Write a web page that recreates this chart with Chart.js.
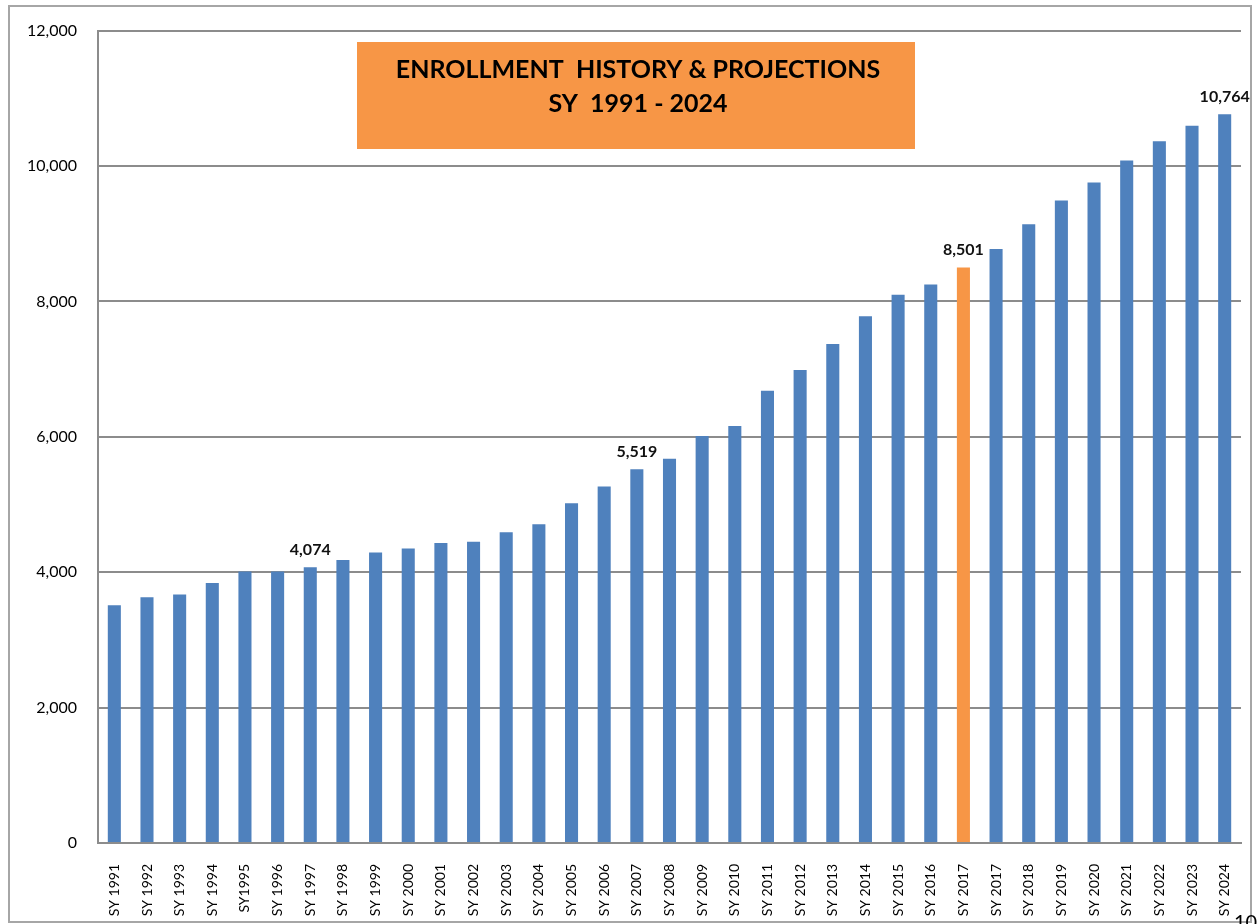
<!DOCTYPE html>
<html>
<head>
<meta charset="utf-8">
<title>Enrollment History & Projections</title>
<script src="https://cdn.jsdelivr.net/npm/chart.js@4.4.1/dist/chart.umd.min.js"></script>
<style>
    html, body { margin: 0; padding: 0; width: 1260px; height: 924px; overflow: hidden; background: #fff; }
    #wrap { position: absolute; left: 0; top: 0; width: 1260px; height: 924px; }
    #frame { position: absolute; left: 8px; top: 5px; width: 1240px; height: 914px; border: 2px solid #a6a6a6; pointer-events: none; }
    #pageNo { position: absolute; left: 1234px; top: 909px; font: 20px Lato, sans-serif; color: #000; }
</style>
</head>
<body>
<div id="wrap"><canvas id="enrollmentChart" width="1260" height="924"></canvas></div>
<div id="frame"></div>
<div id="pageNo">10</div>
<script>
// Chart data
const categories = [
    'SY 1991', 'SY 1992', 'SY 1993', 'SY 1994', 'SY1995', 'SY 1996', 'SY 1997', 'SY 1998',
    'SY 1999', 'SY 2000', 'SY 2001', 'SY 2002', 'SY 2003', 'SY 2004', 'SY 2005', 'SY 2006',
    'SY 2007', 'SY 2008', 'SY 2009', 'SY 2010', 'SY 2011', 'SY 2012', 'SY 2013', 'SY 2014',
    'SY 2015', 'SY 2016', 'SY 2017', 'SY 2017', 'SY 2018', 'SY 2019', 'SY 2020', 'SY 2021',
    'SY 2022', 'SY 2023', 'SY 2024'
];
const enrollment = [
    3510, 3630, 3670, 3840, 4010, 4010, 4074, 4180,
    4290, 4350, 4430, 4450, 4590, 4710, 5020, 5265,
    5519, 5675, 6010, 6160, 6680, 6985, 7370, 7780,
    8100, 8250, 8501, 8775, 9140, 9490, 9755, 10080,
    10365, 10595, 10764
];
const yTicks = [0, 2000, 4000, 6000, 8000, 10000, 12000];
const highlightIndex = 26;          // the orange SY 2017 bar
const labeledIndexes = [6, 16, 26, 34];
const titleLines = ['ENROLLMENT  HISTORY & PROJECTIONS', 'SY  1991 - 2024'];

const BLUE = '#4f81bd';
const ORANGE = '#f79646';
const GRID = '#8c8c8c';

const barColors = enrollment.map((v, i) => i === highlightIndex ? ORANGE : BLUE);

// Value labels above selected bars
const barValueLabels = {
    id: 'barValueLabels',
    afterDatasetsDraw(chart) {
        const ctx = chart.ctx;
        const meta = chart.getDatasetMeta(0);
        ctx.save();
        ctx.font = 'bold 16px Lato';
        ctx.fillStyle = '#111';
        ctx.textAlign = 'center';
        ctx.textBaseline = 'alphabetic';
        labeledIndexes.forEach(i => {
            const bar = meta.data[i];
            ctx.fillText(enrollment[i].toLocaleString('en-US'), bar.x, bar.y - 12);
        });
        ctx.restore();
    }
};

// Orange title box inside the plot
const titleBox = {
    id: 'titleBox',
    afterDraw(chart) {
        const ctx = chart.ctx;
        ctx.save();
        ctx.fillStyle = ORANGE;
        ctx.fillRect(357, 42, 558, 107);
        ctx.fillStyle = '#000';
        ctx.font = 'bold 25px Lato';
        ctx.textAlign = 'center';
        ctx.textBaseline = 'middle';
        ctx.fillText(titleLines[0], 638, 70);
        ctx.fillText(titleLines[1], 638, 104);
        ctx.restore();
    }
};

const ctx = document.getElementById('enrollmentChart');
new Chart(ctx, {
    type: 'bar',
    data: {
        labels: categories,
        datasets: [{
            data: enrollment,
            backgroundColor: barColors,
            borderWidth: 0,
            categoryPercentage: 1.0,
            barPercentage: 0.4
        }]
    },
    options: {
        responsive: false,
        animation: false,
        layout: { padding: { top: 28, right: 19, left: 0, bottom: 0 } },
        plugins: {
            legend: { display: false },
            tooltip: { enabled: false }
        },
        scales: {
            x: {
                grid: { display: false },
                border: { display: true, color: GRID, width: 2 },
                ticks: {
                    autoSkip: false,
                    maxRotation: 90,
                    minRotation: 90,
                    padding: 13,
                    color: '#000',
                    font: { family: 'Lato', size: 14 }
                },
                afterFit: scale => { scale.height = 81; }
            },
            y: {
                min: 0,
                max: 12000,
                afterBuildTicks: scale => { scale.ticks = yTicks.map(v => ({ value: v })); },
                grid: { color: GRID, lineWidth: 2, drawTicks: false },
                border: { display: true, color: GRID, width: 2 },
                ticks: {
                    padding: 21,
                    color: '#000',
                    font: { family: 'Lato', size: 16 },
                    callback: v => v.toLocaleString('en-US')
                },
                afterFit: scale => { scale.width = 98; }
            }
        }
    },
    plugins: [barValueLabels, titleBox]
});
</script>
</body>
</html>
